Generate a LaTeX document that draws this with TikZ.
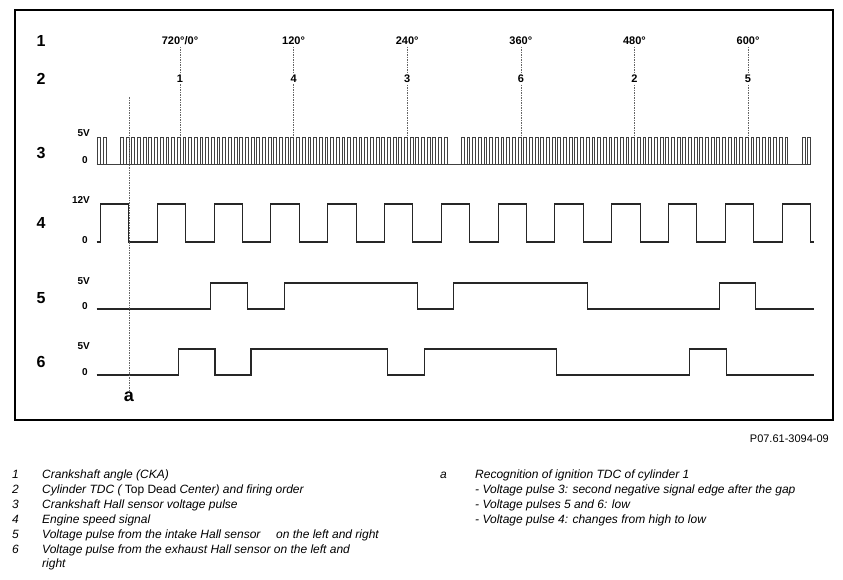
\documentclass[tikz,border=0pt]{standalone}
\usepackage{fontspec}
\setmainfont{Liberation Sans}
\usetikzlibrary{positioning}
\begin{document}
\begin{tikzpicture}[x=1pt, y=-1pt,
    rownum/.style = {font=\bfseries\fontsize{16}{16}\selectfont},
    volt/.style = {font=\bfseries\fontsize{10}{10}\selectfont, anchor=east, inner sep=0pt},
    angle/.style = {font=\bfseries\fontsize{11}{11}\selectfont, inner sep=1.5pt},
    tdcline/.style = {dash pattern=on 1.5pt off 1pt, black!60, line width=0.6pt},
    wave/.style = {line width=1.1pt, black!85},
    tooth/.style = {line width=0.6pt, black!75},
    legend/.style = {font=\itshape\fontsize{12}{14}\selectfont, anchor=base west, inner sep=0pt, align=left}]

  \useasboundingbox (0,0) rectangle (843,579);
  \draw[line width=1.2pt] (15,10) rectangle (833,420);

  % row numbers
  \foreach \n/\y in {1/41, 2/79, 3/153, 4/223, 5/298, 6/362}
    \node[rownum] (row\n) at (41,\y) {\n};

  % voltage levels
  \foreach \n/\v/\yh/\yl in {3/5V/133/160, 4/12V/200/240, 5/5V/281/306, 6/5V/346/372} {
    \node[volt] (hi\n) at (90,\yh) {\v};
    \node[volt] (lo\n) at (88,\yl) {0};
  }

  \begin{scope}[shift={(180pt,0pt)}, x=0.9467pt]
    % crankshaft angle and firing order
    \foreach \d/\lab/\cyl in {0/{720°/0°}/1, 120/120°/4, 240/240°/3, 360/360°/6, 480/480°/2, 600/600°/5} {
      \node[angle] (ang\d) at (\d,41) {\lab};
      \node[angle] (cyl\d) at (\d,79) {\cyl};
      \coordinate (tdc\d) at (\d,137);
      \draw[tdcline] (ang\d) -- (cyl\d) -- (tdc\d);
    }

    % 3: crankshaft hall sensor, 60-2 teeth
    \draw[tooth] (-88,164) -- (667,164);
    \foreach \k in {0,...,125} {
      \pgfmathtruncatemacro\m{mod(\k,60)}
      \pgfmathsetmacro\r{-87+6*\k}
      \ifnum\m=2 \else\ifnum\m=3 \else
        \draw[tooth] (\r,164) -- (\r,137) -- (\r+3,137) -- (\r+3,164);
      \fi\fi
    }

    % 4: engine speed signal
    \draw[wave] (-88,242) foreach \k in {0,...,12} {
        -- (-84+60*\k,242) -- (-84+60*\k,204) -- (-54+60*\k,204) -- (-54+60*\k,242)
      } -- (670,242);

    % 5: intake hall sensor
    \draw[wave] (-88,309) -- (32,309) -- (32,283) -- (71,283) -- (71,309) -- (110,309)
      -- (110,283) -- (251,283) -- (251,309) -- (289,309) -- (289,283) -- (430,283)
      -- (430,309) -- (570,309) -- (570,283) -- (608,283) -- (608,309) -- (670,309);

    % 6: exhaust hall sensor
    \draw[wave] (-88,375) -- (-2,375) -- (-2,349) -- (37,349) -- (37,375) -- (75,375)
      -- (75,349) -- (219,349) -- (219,375) -- (258,375) -- (258,349) -- (398,349)
      -- (398,375) -- (538,375) -- (538,349) -- (577,349) -- (577,375) -- (670,375);

    % a: ignition TDC of cylinder 1
    \coordinate (atop) at (-54,97);
    \node[font=\bfseries\fontsize{18}{18}\selectfont, inner sep=1pt] (alabel) at (-54,397) {a};
    \draw[tdcline] (atop) -- (alabel);
  \end{scope}

  \node[font=\fontsize{11}{12}\selectfont, anchor=base east, inner sep=0pt] (fig) at (829,442) {P07.61-3094-09};

  % legend
  \foreach \n/\t [count=\i from 0] in {
      1/{Crankshaft angle (CKA)},
      2/{Cylinder TDC ( {\upshape Top Dead} Center) and firing order},
      3/{Crankshaft Hall sensor voltage pulse},
      4/{Engine speed signal},
      5/{Voltage pulse from the intake Hall sensor\hspace{1.3em}on the left and right}} {
    \node[legend] (num\n) at (12,478+15*\i) {\n};
    \node[legend] (key\n) at (42,478+15*\i) {\t};
  }
  \node[legend] (num6) at (12,553) {6};
  % two lines: base is the last line
  \node[legend] (key6) at (42,567) {Voltage pulse from the exhaust Hall sensor on the left and\\right};

  \node[legend] (numa) at (440,478) {a};
  \foreach \t [count=\i from 0] in {
      {Recognition of ignition TDC of cylinder 1},
      {- Voltage pulse 3: second negative signal edge after the gap},
      {- Voltage pulses 5 and 6: low},
      {- Voltage pulse 4: changes from high to low}}
    \node[legend] (keya\i) at (475,478+15*\i) {\t};
\end{tikzpicture}
\end{document}
